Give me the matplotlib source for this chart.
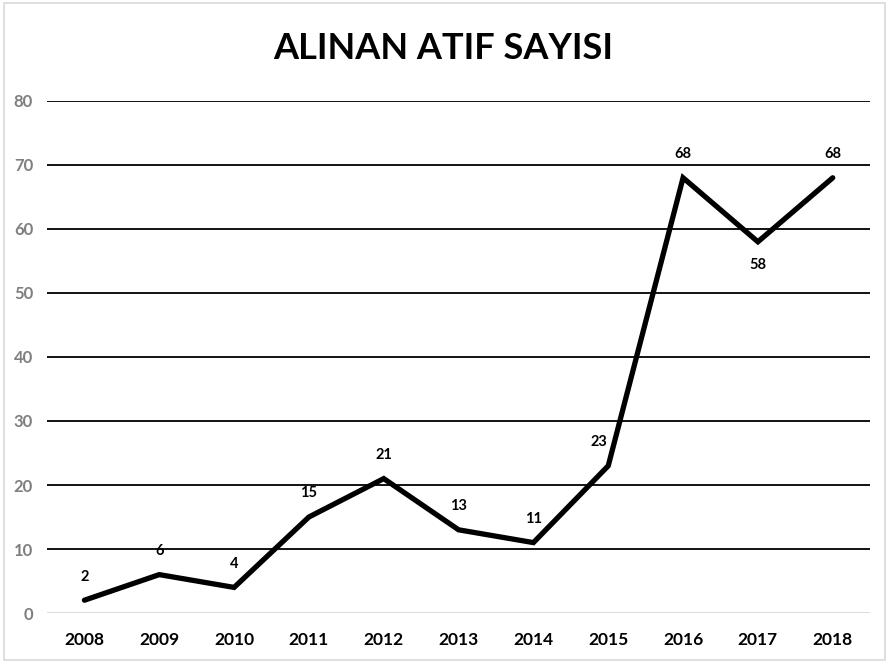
import matplotlib.pyplot as plt
from matplotlib.patches import Rectangle

years = ['2008', '2009', '2010', '2011', '2012', '2013', '2014', '2015', '2016', '2017', '2018']
counts = [2, 6, 4, 15, 21, 13, 11, 23, 68, 58, 68]
# where each data label goes relative to its point
label_pos = ['above'] * 11
label_pos[7] = 'left'
label_pos[9] = 'below'

plt.rcParams['font.family'] = ['Lato', 'DejaVu Sans']

fig = plt.figure(figsize=(8.87, 6.63), dpi=100)
ax = fig.add_axes([0.053, 0.0754, 0.928, 0.7723])

x = list(range(len(years)))
ax.plot(x, counts, color='black', linewidth=3.8, solid_capstyle='round', solid_joinstyle='miter', zorder=3)

for i, v in enumerate(counts):
    if label_pos[i] == 'above':
        ax.annotate(str(v), (i, v), xytext=(0, 12), textcoords='offset points',
                    ha='center', va='bottom', fontsize=10.5, fontweight='bold')
    elif label_pos[i] == 'below':
        ax.annotate(str(v), (i, v), xytext=(0, -12), textcoords='offset points',
                    ha='center', va='top', fontsize=10.5, fontweight='bold')
    else:
        ax.annotate(str(v), (i, v), xytext=(-7, 12), textcoords='offset points',
                    ha='center', va='bottom', fontsize=10.5, fontweight='bold')

ax.set_xlim(-0.5, len(years) - 0.5)
ax.set_ylim(0, 80)
ax.set_yticks(range(0, 81, 10))
ax.set_xticks(x)
ax.set_xticklabels(years, fontsize=12.5, fontweight='bold')
for lab in ax.get_yticklabels():
    lab.set_fontsize(12)
    lab.set_color('#7f7f7f')
    lab.set_fontweight('bold')

for yv in range(10, 81, 10):
    ax.axhline(yv, color='black', linewidth=1.3, zorder=1)
ax.axhline(0, color='#d9d9d9', linewidth=1.3, zorder=1)

for s in ax.spines.values():
    s.set_visible(False)
ax.tick_params(length=0)
ax.tick_params(axis='x', pad=14)
ax.tick_params(axis='y', pad=10)

fig.text(0.5, 0.927, 'ALINAN ATIF SAYISI', ha='center', va='center', fontsize=26, fontweight='bold')

fig.patches.append(Rectangle((0.004, 0.004), 0.994, 0.992, transform=fig.transFigure,
                             fill=False, edgecolor='#d9d9d9', linewidth=1.2))

fig.savefig('out.png', dpi=100)
